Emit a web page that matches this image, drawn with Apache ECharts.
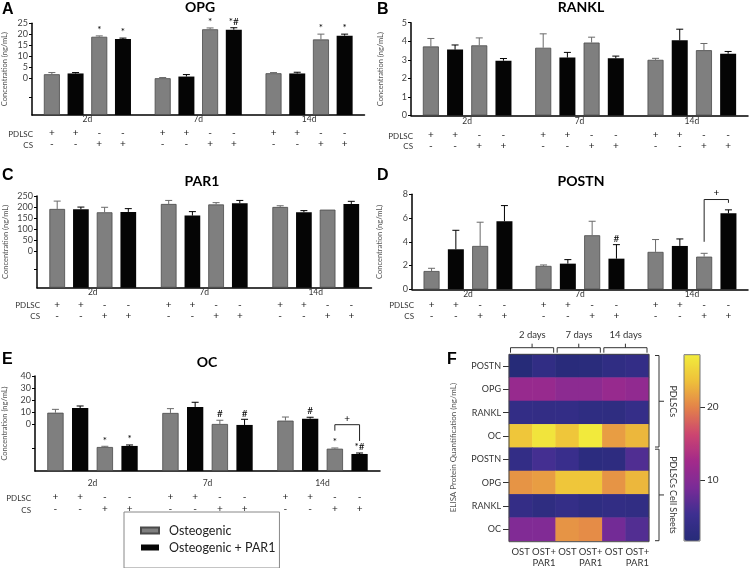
<!DOCTYPE html>
<html><head><meta charset="utf-8">
<script src="https://cdn.jsdelivr.net/npm/echarts@6/dist/echarts.min.js"></script>
<style>html,body{margin:0;padding:0;background:#fff}#c{width:750px;height:568px}</style>
</head><body><div id="c"></div>
<script>
// ---------------- DATA ----------------
const days = ['2d', '7d', '14d'];
const pdlscSigns = ['+', '+', '-', '-'];
const csSigns = ['-', '-', '+', '+'];
const legendNames = ['Osteogenic', 'Osteogenic + PAR1'];
const yName = 'Concentration (ng/mL)';

// per day: [OST PDLSC, OST+PAR1 PDLSC, OST CS, OST+PAR1 CS] (values in axis units)
const opgTicks = [0, 5, 10, 15, 20, 25];
const opgMean = [[1.95, 2.3, 18.9, 17.9], [0.15, 0.9, 22.3, 22.1], [2.4, 2.3, 17.7, 19.4]];
const opgErrTop = [[2.7, 2.7, 19.3, 18.3], [0.45, 1.8, 22.9, 23.0], [2.7, 2.85, 20.1, 20.1]];
const opgSig = [['', '', '*', '*'], ['', '', '*', '*#'], ['', '', '*', '*']];

const ranklTicks = [0, 1, 2, 3, 4, 5];
const ranklMean = [[3.72, 3.55, 3.78, 2.95], [3.65, 3.12, 3.93, 3.08], [3.0, 4.05, 3.52, 3.33]];
const ranklErrTop = [[4.15, 3.8, 4.18, 3.07], [4.4, 3.4, 4.22, 3.2], [3.08, 4.65, 3.88, 3.45]];
const ranklSig = [['', '', '', ''], ['', '', '', ''], ['', '', '', '']];

const par1Ticks = [0, 50, 100, 150, 200, 250];
const par1Mean = [[191.5, 190, 176.5, 178], [214, 161.6, 212, 217], [200.5, 176.5, 188.5, 214]];
const par1ErrTop = [[227, 200, 199, 193], [230, 179.5, 220, 230], [206, 184, 190, 226]];
const par1Sig = [['', '', '', ''], ['', '', '', ''], ['', '', '', '']];

const postnTicks = [0, 2, 4, 6, 8];
const postnMean = [[1.54, 3.37, 3.65, 5.73], [1.97, 2.16, 4.55, 2.58], [3.15, 3.65, 2.75, 6.4]];
const postnErrTop = [[1.77, 4.97, 5.65, 7.05], [2.05, 2.5, 5.73, 3.76], [4.19, 4.24, 3.03, 6.69]];
const postnSig = [['', '', '', ''], ['', '', '', '#'], ['', '', '', '']];
const postnBracket = { day: 2, from: 2, to: 3, top: 7.56, leftEnd: 4.0, rightEnd: 7.28, mark: '+', markAt: 8.15 };

const ocTicks = [0, 10, 20, 30, 40];
const ocMean = [[9.4, 13.3, -19.2, -18.3], [9.2, 14.2, 0, -0.8], [2.8, 4.4, -20.6, -25]];
const ocErrTop = [[12.2, 15, -18.6, -17.5], [12.8, 18.1, 3.1, 3.9], [5.8, 5.6, -20, -24.2]];
const ocSig = [['', '', '*', '*'], ['', '', '#', '#'], ['', '#', '*', '*#']];
const ocBracket = { day: 2, from: 2, to: 3, top: -0.6, leftEnd: -5.6, rightEnd: -14.2, mark: '+', markAt: 4.4 };

// heatmap (F)
const heatRows = ['POSTN', 'OPG', 'RANKL', 'OC', 'POSTN', 'OPG', 'RANKL', 'OC'];
const heatCols = ['OST', 'OST+\nPAR1', 'OST', 'OST+\nPAR1', 'OST', 'OST+\nPAR1'];
const heatDays = ['2 days', '7 days', '14 days'];
const heatGroups = ['PDLSCs', 'PDLSCs Cell Sheets'];
const heatValues = [
  [1.5, 3.4, 2.0, 2.2, 3.2, 3.7],
  [11.5, 11.5, 10.5, 10.5, 11.5, 11.0],
  [3.7, 3.6, 3.7, 3.1, 3.0, 4.0],
  [24.0, 26.5, 24.0, 27.0, 21.5, 23.0],
  [3.7, 5.7, 4.6, 2.6, 2.8, 6.4],
  [21.0, 21.5, 24.0, 24.0, 21.0, 23.0],
  [3.8, 3.0, 3.9, 3.1, 3.5, 3.3],
  [9.5, 9.5, 21.0, 20.5, 8.5, 6.5]
];
const heatRange = [1.6, 27.2];
const heatTicks = [10, 20];
const heatTitle = 'ELISA Protein Quantification (ng/mL)';

// ---------------- STYLE / LAYOUT ----------------
const FONT = 'Lato, "DejaVu Sans", sans-serif';
const GRAY = '#7f7f7f', GRAY_EDGE = '#4a4a4a', GRAY_ERR = '#6a6a6a', BLACK = '#050505';
const plasma = ['#262b78', '#3d2f90', '#7a2b97', '#a32a8a', '#cc4570', '#e3814a', '#eec03a', '#f2ec3c'];

const layouts = {
  A: { left: 31, top: 23.3, width: 333.5, height: 91.7, min: -16.5, max: 25, extra: [-8.25], bw: 16, pitch: 23.7, nameGap: 23, m: [0, 13, 24], headX: 33, titleX: 200, titleY: 7, letterX: 2, letterY: 2 },
  B: { left: 411, top: 22.7, width: 337, height: 92.8, min: 0, max: 5, extra: [], bw: 16, pitch: 24.2, nameGap: 26, m: [1, 14.5, 25], headX: 413, titleX: 581, titleY: 7, letterX: 377, letterY: 2 },
  C: { left: 37, top: 196, width: 334.5, height: 91.7, min: -164, max: 250, extra: [-82], bw: 15.7, pitch: 23.7, nameGap: 27, m: [0, 12, 23], headX: 40, titleX: 202, titleY: 181, letterX: 2, letterY: 168 },
  D: { left: 412, top: 194.3, width: 336, height: 95, min: 0, max: 8, extra: [], bw: 16, pitch: 24.3, nameGap: 28, m: [0, 10.5, 21], headX: 414, titleX: 581, titleY: 181, letterX: 377, letterY: 168 },
  E: { left: 33, top: 376, width: 347, height: 95, min: -39.2, max: 40, extra: [-20], bw: 16.3, pitch: 24.7, nameGap: 26, m: [8, 21, 33], headX: 31, titleX: 207, titleY: 362.5, letterX: 2, letterY: 352 }
};

const panels = [
  { letter: 'A', title: 'OPG', mean: opgMean, err: opgErrTop, sig: opgSig, ticks: opgTicks, bracket: null },
  { letter: 'B', title: 'RANKL', mean: ranklMean, err: ranklErrTop, sig: ranklSig, ticks: ranklTicks, bracket: null },
  { letter: 'C', title: 'PAR1', mean: par1Mean, err: par1ErrTop, sig: par1Sig, ticks: par1Ticks, bracket: null },
  { letter: 'D', title: 'POSTN', mean: postnMean, err: postnErrTop, sig: postnSig, ticks: postnTicks, bracket: postnBracket },
  { letter: 'E', title: 'OC', mean: ocMean, err: ocErrTop, sig: ocSig, ticks: ocTicks, bracket: ocBracket }
];

const HM = { left: 509, top: 354.3, width: 140, height: 187.4 };
const CB = { left: 684, top: 354.7, width: 16, height: 186.3 };

function txt(text, x, y, o) {
  o = o || {};
  return {
    type: 'text', x: x, y: y, rotation: o.rotation || 0, z: 100,
    style: {
      text: text, fill: o.color || '#111', fontSize: o.size || 10, fontWeight: o.weight || 'normal',
      fontFamily: o.family || FONT, textAlign: o.align || 'center', align: o.align || 'center',
      textVerticalAlign: o.valign || 'middle', verticalAlign: o.valign || 'middle'
    }
  };
}

const grids = [], xAxes = [], yAxes = [], series = [], graphics = [];

panels.forEach(function (p, g) {
  const L = layouts[p.letter];
  grids.push({ left: L.left, top: L.top, width: L.width, height: L.height });
  xAxes.push({
    type: 'category', gridIndex: g, data: days, position: 'bottom',
    axisLine: { lineStyle: { color: '#000', width: 1.5 } },
    axisTick: { alignWithLabel: true, length: 3, lineStyle: { color: '#000' } },
    axisLabel: { margin: L.m[0], fontSize: 8.5, color: '#333', fontFamily: FONT, interval: 0 }
  });
  const xi = xAxes.length - 1;
  [pdlscSigns, csSigns].forEach(function (signs, r) {
    xAxes.push({
      type: 'category', gridIndex: g, data: days, position: 'bottom',
      axisLine: { show: false }, axisTick: { show: false },
      axisLabel: {
        interval: 0, margin: L.m[r + 1],
        formatter: function () { return signs.map(function (s) { return '{t|' + s + '}'; }).join(''); },
        rich: { t: { width: L.pitch, align: 'center', fontSize: 10, color: '#222', fontFamily: FONT } }
      }
    });
  });
  yAxes.push({
    type: 'value', gridIndex: g, min: 0, max: L.max - L.min,
    axisLine: { show: true, lineStyle: { color: '#000', width: 1.5 } },
    axisTick: { show: true, length: 3, customValues: p.ticks.concat(L.extra).map(function (v) { return v - L.min; }), lineStyle: { color: '#000' } },
    axisLabel: {
      customValues: p.ticks.map(function (v) { return v - L.min; }),
      formatter: function (v) { return String(Math.round(v + L.min)); },
      fontSize: 9, color: '#444', margin: 4, fontFamily: FONT
    },
    splitLine: { show: false },
    name: yName, nameLocation: 'middle', nameGap: L.nameGap,
    nameTextStyle: { fontSize: 7.5, color: '#555', fontFamily: FONT }
  });
  const yi = yAxes.length - 1;
  for (let s = 0; s < 4; s++) {
    series.push({
      type: 'bar', name: legendNames[s % 2], xAxisIndex: xi, yAxisIndex: yi,
      barWidth: L.bw, barGap: ((L.pitch - L.bw) / L.bw * 100) + '%',
      data: p.mean.map(function (row) { return row[s] - L.min; }),
      itemStyle: s % 2 === 0 ? { color: GRAY, borderColor: GRAY_EDGE, borderWidth: 0.8 } : { color: BLACK },
      silent: true, animation: false
    });
  }
  const errData = [];
  p.mean.forEach(function (row, i) {
    row.forEach(function (m, s) { errData.push([i, s, m - L.min, p.err[i][s] - L.min]); });
  });
  series.push({
    type: 'custom', xAxisIndex: xi, yAxisIndex: yi, data: errData, encode: { x: 0, y: 3 },
    silent: true, animation: false, z: 5, clip: false,
    renderItem: function (params, api) {
      const i = api.value(0), s = api.value(1);
      const cx = api.coord([i, 0])[0] + (s - 1.5) * L.pitch;
      const yTop = api.coord([i, api.value(2)])[1];
      const yErr = api.coord([i, api.value(3)])[1];
      const col = s % 2 === 0 ? GRAY_ERR : '#000';
      const ch = [];
      if (yTop - yErr > 0.6) {
        ch.push({ type: 'line', shape: { x1: cx, y1: yTop, x2: cx, y2: yErr }, style: { stroke: col, lineWidth: 1 } });
        ch.push({ type: 'line', shape: { x1: cx - 3.5, y1: yErr, x2: cx + 3.5, y2: yErr }, style: { stroke: col, lineWidth: 1 } });
      }
      const sg = p.sig[i][s];
      if (sg) ch.push({ type: 'text', x: cx, y: yErr - 1, style: { text: sg, fill: '#000', fontSize: 10, fontFamily: FONT, align: 'center', textAlign: 'center', verticalAlign: 'bottom', textVerticalAlign: 'bottom' } });
      return { type: 'group', children: ch };
    }
  });
  if (p.bracket) {
    const b = p.bracket;
    series.push({
      type: 'custom', xAxisIndex: xi, yAxisIndex: yi, silent: true, animation: false, z: 5, clip: false,
      data: [[b.day, b.from, b.to, b.top - L.min, b.leftEnd - L.min, b.rightEnd - L.min, b.markAt - L.min]],
      encode: { x: 0, y: 3 },
      renderItem: function (params, api) {
        const c = api.coord([api.value(0), 0])[0];
        const x1 = c + (api.value(1) - 1.5) * L.pitch, x2 = c + (api.value(2) - 1.5) * L.pitch;
        const yT = api.coord([0, api.value(3)])[1];
        const yL = api.coord([0, api.value(4)])[1];
        const yR = api.coord([0, api.value(5)])[1];
        const yM = api.coord([0, api.value(6)])[1];
        return { type: 'group', children: [
          { type: 'polyline', shape: { points: [[x1, yL], [x1, yT], [x2, yT], [x2, yR]] }, style: { stroke: '#222', lineWidth: 1, fill: null } },
          { type: 'text', x: (x1 + x2) / 2, y: yM, style: { text: b.mark, fill: '#000', fontSize: 10, fontFamily: FONT, align: 'center', textAlign: 'center', verticalAlign: 'middle', textVerticalAlign: 'middle' } }
        ] };
      }
    });
  }
  graphics.push(txt(p.letter, L.letterX, L.letterY, { size: 16, weight: 'bold', family: '"Liberation Sans", Arial, sans-serif', align: 'left', valign: 'top', color: '#000' }));
  graphics.push(txt(p.title, L.titleX, L.titleY, { size: 14, weight: 'bold', color: '#000' }));
  const rowY0 = L.top + L.height + L.m[1] + 6, rowY1 = L.top + L.height + L.m[2] + 6;
  graphics.push(txt('PDLSC', L.headX, rowY0, { size: 8, align: 'right', color: '#333' }));
  graphics.push(txt('CS', L.headX, rowY1, { size: 8, align: 'right', color: '#333' }));
});

// ---------- Heatmap F ----------
const hg = grids.length;
grids.push({ left: HM.left, top: HM.top, width: HM.width, height: HM.height });
xAxes.push({
  type: 'category', gridIndex: hg, data: heatCols.map(function (c, i) { return i + '|' + c; }), position: 'bottom',
  axisLine: { show: false }, axisTick: { show: false },
  axisLabel: { interval: 0, margin: 5, fontSize: 9.5, lineHeight: 11, color: '#333', fontFamily: FONT, formatter: function (v) { return v.split('|')[1]; } }
});
const hxi = xAxes.length - 1;
xAxes.push({
  type: 'category', gridIndex: hg, data: heatDays, position: 'top',
  axisLine: { show: false }, axisTick: { show: false },
  axisLabel: { interval: 0, margin: 14, fontSize: 9.5, color: '#333', fontFamily: FONT }
});
yAxes.push({
  type: 'category', gridIndex: hg, inverse: true, data: heatRows.map(function (r, i) { return i + '|' + r; }),
  axisLine: { show: false },
  axisTick: { show: true, alignWithLabel: true, length: 6, lineStyle: { color: '#333' } },
  axisLabel: { margin: 8, fontSize: 9, color: '#333', fontFamily: FONT, formatter: function (v) { return v.split('|')[1]; } },
  name: heatTitle, nameLocation: 'middle', nameGap: 52, nameRotate: 90,
  nameTextStyle: { fontSize: 8, color: '#555', fontFamily: FONT }
});
const hyi = yAxes.length - 1;
const heatData = [];
heatValues.forEach(function (row, r) { row.forEach(function (v, c) { heatData.push([c, r, v]); }); });
const heatSeriesIndex = series.length;
series.push({ type: 'heatmap', xAxisIndex: hxi, yAxisIndex: hyi, data: heatData, silent: true, animation: false });

// colorbar axis
const cg = grids.length;
grids.push({ left: CB.left, top: CB.top, width: CB.width, height: CB.height });
xAxes.push({ type: 'category', gridIndex: cg, data: [''], show: false });
yAxes.push({
  type: 'value', gridIndex: cg, position: 'right', min: heatRange[0], max: heatRange[1],
  axisLine: { show: false }, splitLine: { show: false },
  axisTick: { show: true, length: 5, customValues: heatTicks, lineStyle: { color: '#333' } },
  axisLabel: { customValues: heatTicks, margin: 7, fontSize: 10, color: '#333', fontFamily: FONT }
});

// F annotations
graphics.push(txt('F', 447, 352, { size: 16, weight: 'bold', family: '"Liberation Sans", Arial, sans-serif', align: 'left', valign: 'top', color: '#000' }));
graphics.push({ type: 'rect', z: 100, shape: { x: HM.left, y: HM.top, width: HM.width, height: HM.height }, style: { fill: null, stroke: '#444', lineWidth: 1 } });
graphics.push({ type: 'rect', z: 100, shape: { x: CB.left, y: CB.top, width: CB.width, height: CB.height }, style: { fill: null, stroke: '#777', lineWidth: 1 } });
const colW = HM.width / heatCols.length;
heatDays.forEach(function (d, k) {
  const x1 = HM.left + 2 * k * colW + 1.5, x2 = HM.left + (2 * k + 2) * colW - 2;
  const yb = 347.7;
  graphics.push({ type: 'polyline', z: 100, shape: { points: [[x1, yb + 5], [x1, yb], [x2, yb], [x2, yb + 5]] }, style: { stroke: '#333', lineWidth: 1, fill: null } });
  graphics.push({ type: 'line', z: 100, shape: { x1: (x1 + x2) / 2, y1: yb, x2: (x1 + x2) / 2, y2: yb - 4 }, style: { stroke: '#333', lineWidth: 1 } });
});
const rowH = HM.height / heatRows.length;
heatGroups.forEach(function (gname, k) {
  const y1 = HM.top + 4 * k * rowH + 1.2, y2 = HM.top + (4 * k + 4) * rowH - 1;
  const xb = 659;
  graphics.push({ type: 'polyline', z: 100, shape: { points: [[xb - 4, y1], [xb, y1], [xb, y2], [xb - 4, y2]] }, style: { stroke: '#333', lineWidth: 1, fill: null } });
  graphics.push({ type: 'line', z: 100, shape: { x1: xb, y1: (y1 + y2) / 2, x2: xb + 5, y2: (y1 + y2) / 2 }, style: { stroke: '#333', lineWidth: 1 } });
  graphics.push(txt(gname, 673, (y1 + y2) / 2, { size: 9, rotation: -Math.PI / 2, color: '#333' }));
});

const option = {
  backgroundColor: '#fff',
  animation: false,
  grid: grids, xAxis: xAxes, yAxis: yAxes, series: series,
  legend: {
    data: legendNames, orient: 'vertical', left: 124, top: 512, icon: 'rect',
    itemWidth: 18, itemHeight: 6, itemGap: 4, selectedMode: false,
    borderColor: '#888', borderWidth: 1, padding: [12, 4, 14, 16],
    textStyle: { fontSize: 12.5, color: '#222', fontFamily: FONT, padding: [0, 0, 0, 5] }
  },
  visualMap: {
    type: 'continuous', seriesIndex: heatSeriesIndex, min: heatRange[0], max: heatRange[1],
    orient: 'vertical', left: CB.left, top: CB.top, itemWidth: CB.width, itemHeight: CB.height,
    padding: 0, calculable: false, inRange: { color: plasma }, hoverLink: false
  },
  graphic: graphics
};

const chart = echarts.init(document.getElementById('c'));
chart.setOption(option);
</script>
</body></html>
